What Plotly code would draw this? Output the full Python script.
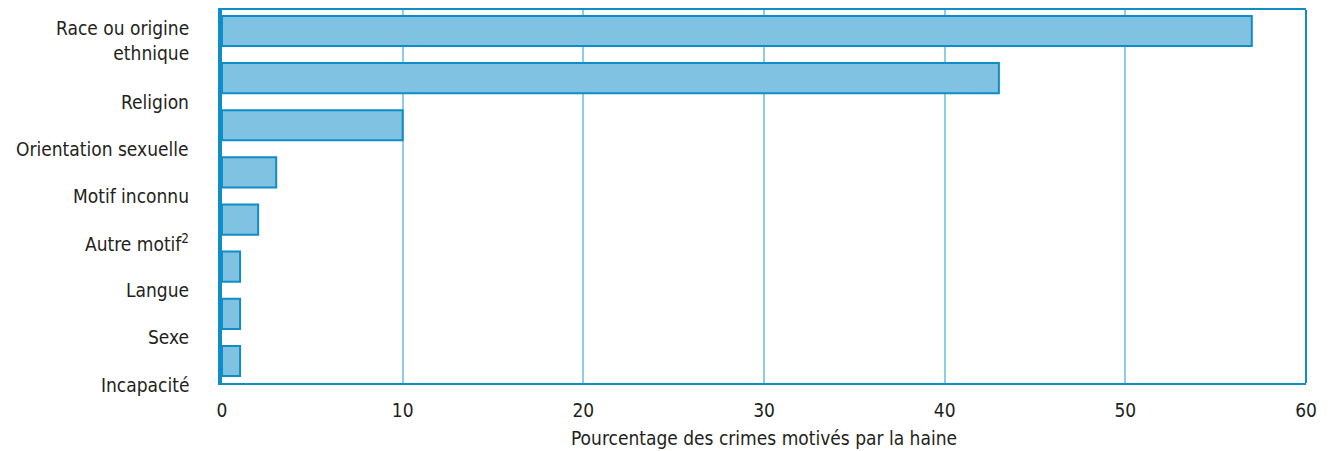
import plotly.graph_objects as go

categories = ["Race ou origine<br>ethnique", "Religion", "Orientation sexuelle", "Motif inconnu",
              "Autre motif<sup>2</sup>", "Langue", "Sexe", "Incapacité"]
values = [57, 43, 10, 3, 2, 1, 1, 1]
x_ticks = [0, 10, 20, 30, 40, 50, 60]
x_title = "Pourcentage des crimes motivés par la haine"

FONT = "Liberation Sans Narrow, DejaVu Sans Condensed, Arial Narrow, sans-serif"
TXT = "#231f20"
BLUE = "#0f8dc6"

pos = list(range(len(values)))
Y_TOP, Y_BOT = -0.445, 7.467
label_pos = [p + 0.5 for p in pos]
label_pos[0] = pos[0] + 0.21
label_paper = [(Y_BOT - v) / (Y_BOT - Y_TOP) for v in label_pos]

fig = go.Figure(go.Bar(
    y=pos, x=values, orientation="h", width=0.64,
    marker=dict(color="#7fc2e2", line=dict(color=BLUE, width=2)),
))

fig.update_layout(
    width=1326, height=443,
    margin=dict(l=214, r=28, t=2, b=68),
    paper_bgcolor="white", plot_bgcolor="white",
    showlegend=False,
    font=dict(family=FONT, size=19, color=TXT),
)
fig.update_xaxes(
    range=[0, 60], tickvals=x_ticks, ticktext=[str(v) for v in x_ticks],
    showgrid=True, gridcolor="#8fcce9", gridwidth=1.5,
    zeroline=False, showline=True, linecolor=BLUE, linewidth=2, mirror=True,
    ticks="", ticklabelstandoff=9, automargin=False,
    title=dict(text=x_title, standoff=12, font=dict(size=19)),
    tickfont=dict(size=19),
)
fig.update_yaxes(
    range=[Y_BOT, Y_TOP], showticklabels=False, automargin=False,
    showgrid=False, zeroline=False, showline=True, linecolor=BLUE, linewidth=3.5,
    mirror=False, ticks="",
)
for lab, yp in zip(categories, label_paper):
    fig.add_annotation(text=lab, x=0, xref="paper", y=yp, yref="paper",
                       xanchor="right", yanchor="middle", align="right",
                       xshift=-31, showarrow=False,
                       font=dict(size=19, color=TXT, family=FONT))
fig.add_shape(type="line", xref="paper", yref="paper", x0=1, x1=1, y0=0, y1=1,
              line=dict(color=BLUE, width=2))

fig.write_html("out.html")
